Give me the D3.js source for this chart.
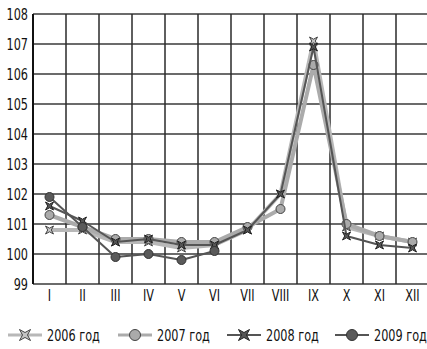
<!DOCTYPE html>
<html>
<head>
<meta charset="utf-8">
<script src="https://cdn.jsdelivr.net/npm/d3@7"></script>
<style>
  body { margin: 0; background: #fff; }
  text { font-family: "DejaVu Sans", sans-serif; font-stretch: condensed; }
</style>
</head>
<body>
<div id="chart"></div>
<script>
var months = ["I", "II", "III", "IV", "V", "VI", "VII", "VIII", "IX", "X", "XI", "XII"];
var yTicks = [99, 100, 101, 102, 103, 104, 105, 106, 107, 108];

var y2006 = [100.8, 100.8, 100.4, 100.4, 100.2, 100.3, 100.8, 102.0, 107.1, 100.9, 100.6, 100.4];
var y2007 = [101.3, 100.9, 100.5, 100.5, 100.4, 100.4, 100.9, 101.5, 106.3, 101.0, 100.6, 100.4];
var y2008 = [101.6, 101.1, 100.4, 100.5, 100.3, 100.3, 100.8, 102.0, 106.9, 100.6, 100.3, 100.2];
var y2009 = [101.9, 100.9, 99.9, 100.0, 99.8, 100.1, null, null, null, null, null, null];

var seriesNames = ["2006 год", "2007 год", "2008 год", "2009 год"];

var width = 427, height = 349;
var margin = {top: 14, left: 33, bottom: 65};

var svg = d3.select("#chart").append("svg")
    .attr("width", width)
    .attr("height", height);

var x = d3.scaleBand()
    .domain(months)
    .range([margin.left, margin.left + 33 * 12]);

var y = d3.scaleLinear()
    .domain([99, 108])
    .range([height - margin.bottom, margin.top]);

// the original face is narrower than anything installed: squeeze text a bit
var probe = svg.append("text").attr("font-size", 16).text("108");
var squeeze = Math.min(1, 21.5 / probe.node().getComputedTextLength());
probe.remove();

function narrow(sel, cx) {
    sel.each(function() {
        var t = d3.select(this);
        var ax = cx(t);
        t.attr("transform", (t.attr("transform") || "") +
            " translate(" + ax + ",0) scale(" + squeeze + ",1) translate(" + (-ax) + ",0)");
    });
}

// grid - horizontal
svg.append("g")
    .selectAll("line")
    .data(yTicks)
    .enter().append("line")
    .attr("x1", x.range()[0])
    .attr("x2", x.range()[1])
    .attr("y1", function(d) { return y(d); })
    .attr("y2", function(d) { return y(d); })
    .attr("stroke", "#3a3a3a")
    .attr("stroke-width", 1.5);

// grid - vertical (band edges)
svg.append("g")
    .selectAll("line")
    .data(months)
    .enter().append("line")
    .attr("x1", function(d) { return x(d) + x.bandwidth(); })
    .attr("x2", function(d) { return x(d) + x.bandwidth(); })
    .attr("y1", y(108))
    .attr("y2", y(99))
    .attr("stroke", "#2a2a2a")
    .attr("stroke-width", 1.5);

// left axis line
svg.append("line")
    .attr("x1", margin.left).attr("x2", margin.left)
    .attr("y1", y(108)).attr("y2", y(99))
    .attr("stroke", "#111")
    .attr("stroke-width", 2);

// Y axis labels
var yAxis = svg.append("g")
    .attr("transform", "translate(" + margin.left + ",0)")
    .call(d3.axisLeft(y).tickValues(yTicks).tickSize(0).tickPadding(5));
yAxis.select(".domain").remove();
yAxis.attr("font-family", null);
yAxis.selectAll("text")
    .attr("font-size", 16)
    .attr("fill", "#111")
    .call(narrow, function(t) { return +t.attr("x"); });

// X axis labels
var xAxis = svg.append("g")
    .attr("transform", "translate(0," + y(99) + ")")
    .call(d3.axisBottom(x).tickSize(0).tickPadding(6));
xAxis.select(".domain").remove();
xAxis.attr("font-family", null);
xAxis.selectAll("text")
    .attr("font-size", 16)
    .attr("fill", "#111")
    .call(narrow, function() { return 0; });

// star (x) marker
function starPath(s) {
    var a = s, b = s * 0.45;
    return "M" + (-a) + "," + (-a) + "L0," + (-b) + "L" + a + "," + (-a) +
        "L" + b + ",0L" + a + "," + a + "L0," + b + "L" + (-a) + "," + a +
        "L" + (-b) + ",0Z";
}

var series = [
    {name: seriesNames[0], values: y2006, line: "#b8b8b8", lw: 4, marker: "star", fill: "#c4c4c4", stroke: "#444"},
    {name: seriesNames[1], values: y2007, line: "#ababab", lw: 4, marker: "circle", fill: "#aaaaaa", stroke: "#444"},
    {name: seriesNames[2], values: y2008, line: "#555555", lw: 2, marker: "star", fill: "#555555", stroke: "#222"},
    {name: seriesNames[3], values: y2009, line: "#555555", lw: 2, marker: "circle", fill: "#5a5a5a", stroke: "#333"}
];

var line = d3.line()
    .defined(function(d) { return d != null; })
    .x(function(d, i) { return x(months[i]) + x.bandwidth() / 2; })
    .y(function(d) { return y(d); });

function drawMarker(g, s, cx, cy, size) {
    if (s.marker == "circle") {
        g.append("circle")
            .attr("cx", cx).attr("cy", cy).attr("r", size)
            .attr("fill", s.fill).attr("stroke", s.stroke).attr("stroke-width", 1);
    } else {
        g.append("path")
            .attr("d", starPath(size))
            .attr("transform", "translate(" + cx + "," + cy + ")")
            .attr("fill", s.fill).attr("stroke", s.stroke).attr("stroke-width", 1);
    }
}

series.forEach(function(s) {
    svg.append("path")
        .datum(s.values)
        .attr("fill", "none")
        .attr("stroke", s.line)
        .attr("stroke-width", s.lw)
        .attr("stroke-linejoin", "round")
        .attr("d", line);

    var g = svg.append("g");
    s.values.forEach(function(v, i) {
        if (v == null) return;
        drawMarker(g, s, x(months[i]) + x.bandwidth() / 2, y(v), s.marker == "circle" ? 4.5 : 4);
    });
});

// legend
var legendX = [8, 118, 227, 335];
var legendY = 335;
series.forEach(function(s, i) {
    var g = svg.append("g").attr("transform", "translate(" + legendX[i] + "," + legendY + ")");
    g.append("line")
        .attr("x1", 0).attr("x2", 34)
        .attr("y1", 0).attr("y2", 0)
        .attr("stroke", s.line)
        .attr("stroke-width", s.lw == 4 ? 3 : 2);
    drawMarker(g, s, 17, 0, 5.5);
    g.append("text")
        .attr("x", 39)
        .attr("y", 6)
        .attr("font-size", 16)
        .attr("fill", "#111")
        .text(s.name)
        .call(narrow, function() { return 39; });
});
</script>
</body>
</html>
